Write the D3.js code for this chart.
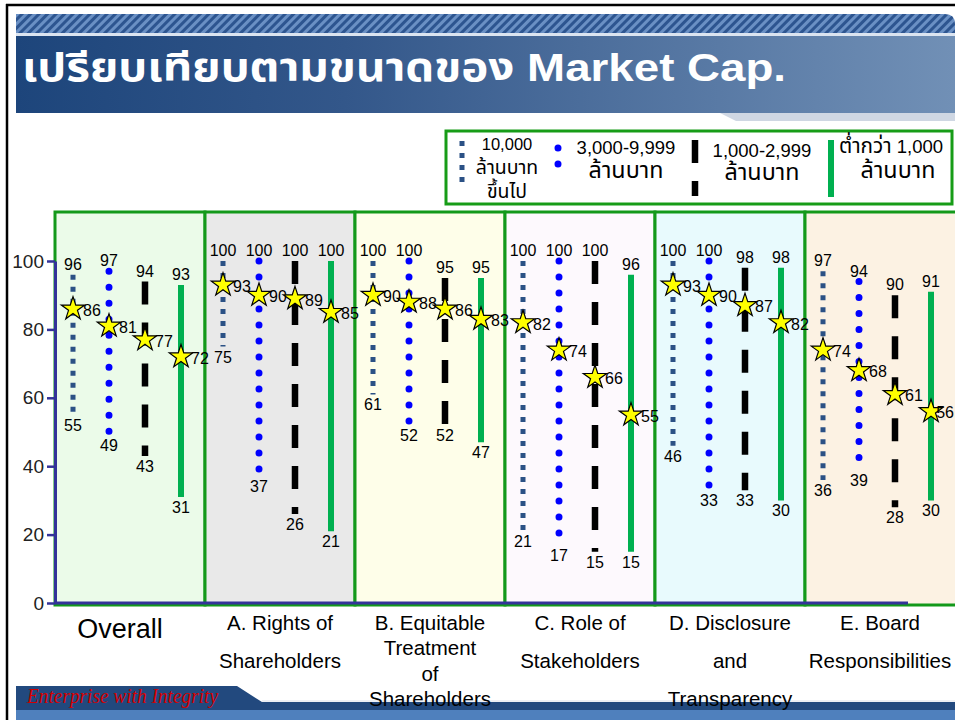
<!DOCTYPE html>
<html><head><meta charset="utf-8">
<script src="https://cdn.jsdelivr.net/npm/d3@7"></script>
<style>body{margin:0;background:#fff;} svg{display:block}</style>
</head><body>
<svg id="c" width="955" height="720"></svg>
<script>
// ---------------- data ----------------
const title = "เปรียบเทียบตามขนาดของ Market Cap.";
const groups = ["Overall", "A", "B", "C", "D", "E"];
const groupLabels = [
  ["Overall"],
  ["A. Rights of", "Shareholders"],
  ["B. Equitable", "Treatment", "of", "Shareholders"],
  ["C. Role of", "Stakeholders"],
  ["D. Disclosure", "and", "Transparency"],
  ["E. Board", "Responsibilities"]
];
const seriesKeys = ["big", "mid", "small", "micro"];
const legendLabels = [
  ["10,000", "ล้านบาท", "ขึ้นไป"],
  ["3,000-9,999", "ล้านบาท"],
  ["1,000-2,999", "ล้านบาท"],
  ["ต่ำกว่า 1,000", "ล้านบาท"]
];
// 10,000+ million baht
const maxBig = [96, 100, 100, 100, 100, 97];
const minBig = [55, 75, 61, 21, 46, 36];
const avgBig = [86, 93, 90, 82, 93, 74];
// 3,000-9,999
const maxMid = [97, 100, 100, 100, 100, 94];
const minMid = [49, 37, 52, 17, 33, 39];
const avgMid = [81, 90, 88, 74, 90, 68];
// 1,000-2,999
const maxSmall = [94, 100, 95, 100, 98, 90];
const minSmall = [43, 26, 52, 15, 33, 28];
const avgSmall = [77, 89, 86, 66, 87, 61];
// < 1,000
const maxMicro = [93, 100, 95, 96, 98, 91];
const minMicro = [31, 21, 47, 15, 30, 30];
const avgMicro = [72, 85, 83, 55, 82, 56];
const yTicks = [0, 20, 40, 60, 80, 100];
const footerText = "Enterprise with Integrity";

// ---------------- styles ----------------
const FONT = "'Liberation Sans', Arial, 'Noto Sans Thai', 'Noto Sans', sans-serif";
const seriesStyle = {
  big:   {stroke: "#2b5185", width: 5,   dash: "5 7",   cap: "butt"},
  mid:   {stroke: "#0000ff", width: 7,   dash: "0 16",  cap: "round"},
  small: {stroke: "#000000", width: 6.5, dash: "23 18", cap: "butt"},
  micro: {stroke: "#00b050", width: 6,   dash: null,    cap: "butt"}
};
const panelFill = ["#ebfbe9", "#e9e9e9", "#fefee9", "#fdf9fd", "#e8fafd", "#fcf2e3"];

const seriesData = {
  big:   {max: maxBig,   min: minBig,   avg: avgBig},
  mid:   {max: maxMid,   min: minMid,   avg: avgMid},
  small: {max: maxSmall, min: minSmall, avg: avgSmall},
  micro: {max: maxMicro, min: minMicro, avg: avgMicro}
};

const W = 955;
const svg = d3.select("#c");
const defs = svg.append("defs");

// gradient for banner
const g1 = defs.append("linearGradient").attr("id", "bannerGrad").attr("x1", 0).attr("x2", 1).attr("y1", 0).attr("y2", 0);
g1.append("stop").attr("offset", "0%").attr("stop-color", "#1d457b");
g1.append("stop").attr("offset", "35%").attr("stop-color", "#33578a");
g1.append("stop").attr("offset", "100%").attr("stop-color", "#7190b6");
// stripes pattern
const pat = defs.append("pattern").attr("id", "stripes").attr("patternUnits", "userSpaceOnUse")
  .attr("width", 6).attr("height", 6).attr("patternTransform", "rotate(45)");
pat.append("rect").attr("width", 6).attr("height", 6).attr("fill", "#6a90c4");
pat.append("rect").attr("width", 3).attr("height", 6).attr("fill", "#2d5590");

// ---------------- header ----------------
svg.append("path").attr("d", "M16,14 H945 Q955,14 955,24 V33 H16 Z").attr("fill", "url(#stripes)");
svg.append("rect").attr("x", 16).attr("y", 33).attr("width", 939).attr("height", 3).attr("fill", "#dbe4f0");
svg.append("rect").attr("x", 16).attr("y", 36).attr("width", 939).attr("height", 77).attr("fill", "url(#bannerGrad)");
svg.append("polygon").attr("points", "720,113 955,113 955,121 736,121").attr("fill", "#cfd7e3");
svg.append("text").attr("x", 22).attr("y", 81)
  .attr("fill", "#ffffff").attr("font-size", 39).attr("font-weight", "bold")
  .attr("font-family", "'Liberation Sans Narrow', 'Liberation Sans', 'Noto Sans Thai', sans-serif")
  .attr("textLength", 764).attr("lengthAdjust", "spacingAndGlyphs")
  .text(title);

// ---------------- scales ----------------
const x = d3.scaleBand().domain(groups).range([55, 955]).paddingInner(0).paddingOuter(0);
const xs = d3.scalePoint().domain(seriesKeys).range([18, 126]);
const y = d3.scaleLinear().domain([0, 100]).range([603, 261]);
const panelTop = 212, panelBottom = 605;

// ---------------- panels ----------------
svg.append("g").selectAll("rect").data(groups).join("rect")
  .attr("x", d => x(d)).attr("y", panelTop)
  .attr("width", (d, i) => x.bandwidth() + (i === groups.length - 1 ? 6 : 0))
  .attr("height", panelBottom - panelTop)
  .attr("fill", (d, i) => panelFill[i])
  .attr("stroke", "#13991a").attr("stroke-width", 3);

// ---------------- axes ----------------
const yAxis = svg.append("g").attr("transform", "translate(55,0)")
  .call(d3.axisLeft(y).tickValues(yTicks).tickSize(8).tickSizeOuter(0).tickPadding(3));
yAxis.select(".domain").attr("stroke", "#333399").attr("stroke-width", 3);
yAxis.selectAll(".tick line").attr("stroke", "#333399").attr("stroke-width", 2.5);
yAxis.selectAll(".tick text").attr("font-size", 19).attr("font-family", FONT).attr("fill", "#222");

svg.append("line").attr("x1", 55).attr("x2", 908).attr("y1", y(0)).attr("y2", y(0))
  .attr("stroke", "#333399").attr("stroke-width", 3);

// ---------------- series ----------------
const star = d3.symbol().type(d3.symbolStar).size(170);
const plot = svg.append("g");
groups.forEach((gName, gi) => {
  seriesKeys.forEach(k => {
    const st = seriesStyle[k], sd = seriesData[k];
    const cx = x(gName) + xs(k);
    const gg = plot.append("g");
    gg.append("line").attr("x1", cx).attr("x2", cx)
      .attr("y1", y(sd.max[gi])).attr("y2", y(sd.min[gi]))
      .attr("stroke", st.stroke).attr("stroke-width", st.width)
      .attr("stroke-linecap", st.cap)
      .attr("stroke-dasharray", st.dash);
    gg.append("text").attr("x", cx).attr("y", y(sd.max[gi]) - 5)
      .attr("text-anchor", "middle").attr("font-size", 16).attr("font-family", FONT)
      .text(sd.max[gi]);
    gg.append("text").attr("x", cx).attr("y", y(sd.min[gi]) + 16)
      .attr("text-anchor", "middle").attr("font-size", 16).attr("font-family", FONT)
      .text(sd.min[gi]);
    gg.append("path").attr("d", star)
      .attr("transform", `translate(${cx},${y(sd.avg[gi])})`)
      .attr("fill", "#ffff00").attr("stroke", "#000").attr("stroke-width", 1.2);
    const lab = gg.append("text").attr("x", cx + 10).attr("y", y(sd.avg[gi]) + 7)
      .attr("font-size", 16).attr("font-family", FONT)
      .text(sd.avg[gi]);
    const w = lab.node().getComputedTextLength();
    if (cx + 10 + w > W - 1) lab.attr("x", W - 1 - w);
  });
});

// ---------------- legend ----------------
svg.append("rect").attr("x", 446).attr("y", 131).attr("width", 506).attr("height", 73)
  .attr("fill", "#fff").attr("stroke", "#179c17").attr("stroke-width", 3);
const legendLayout = [
  {sx: 462, y1: 141, y2: 183, tx: 507, anchor: "middle", fs: 16.5, ys: [150, 174, 198]},
  {sx: 558, y1: 148, y2: 180, tx: 626, anchor: "middle", fs: 18.5, ys: [154, 178]},
  {sx: 695, y1: 140, y2: 196, tx: 762, anchor: "middle", fs: 18.5, ys: [157, 180]},
  {sx: 831, y1: 140, y2: 197, tx: 839, anchor: "start",  fs: 18.5, ys: [153, 178]}
];
const thaiRe = /([\u0E00-\u0E7F]+)/;
function addRuns(textSel, str, fs, thaiScale) {
  str.split(thaiRe).filter(s => s.length).forEach(part => {
    const isThai = thaiRe.test(part);
    textSel.append("tspan").attr("font-size", isThai ? fs * thaiScale : fs).text(part);
  });
}
seriesKeys.forEach((k, i) => {
  const st = seriesStyle[k], L = legendLayout[i];
  svg.append("line").attr("x1", L.sx).attr("x2", L.sx).attr("y1", L.y1).attr("y2", L.y2)
    .attr("stroke", st.stroke).attr("stroke-width", st.width)
    .attr("stroke-linecap", st.cap).attr("stroke-dasharray", st.dash);
  legendLabels[i].forEach((t, j) => {
    let tx = L.tx, anchor = L.anchor;
    if (i === 3 && j === 1) { tx = 898; anchor = "middle"; }
    const te = svg.append("text").attr("x", tx).attr("y", L.ys[j]).attr("text-anchor", anchor)
      .attr("font-size", L.fs).attr("font-family", FONT);
    addRuns(te, t, L.fs, i === 3 && j === 0 ? 1.12 : (i === 0 ? 1.18 : 1.26));
  });
});

// ---------------- footer ----------------
svg.append("polygon").attr("points", "16,686 237,686 262,702 955,702 955,710 16,710").attr("fill", "#22497e");
svg.append("line").attr("x1", 262).attr("x2", 955).attr("y1", 701).attr("y2", 701).attr("stroke", "#d8dee8").attr("stroke-width", 1);
svg.append("rect").attr("x", 16).attr("y", 710).attr("width", 939).attr("height", 10).attr("fill", "#4f80bd");
svg.append("text").attr("x", 27).attr("y", 703).attr("fill", "#d40000")
  .attr("font-size", 21).attr("font-style", "italic")
  .attr("font-family", "'URW Chancery L', 'Z003', 'Liberation Serif', 'DejaVu Serif', serif")
  .attr("textLength", 191).attr("lengthAdjust", "spacingAndGlyphs")
  .text(footerText);

// ---------------- category labels ----------------
groups.forEach((gName, gi) => {
  const lines = groupLabels[gi];
  const cx = x(gName) + x.bandwidth() / 2 - (gi === 0 ? 10 : 0);
  const n = lines.length;
  const fs = n === 1 ? 27 : 20.5;
  const gap = n === 1 ? 0 : Math.min(38, 76 / (n - 1));
  const y0 = n === 1 ? 638 : 630;
  lines.forEach((t, j) => {
    svg.append("text").attr("x", cx).attr("y", y0 + j * gap)
      .attr("text-anchor", "middle").attr("font-size", fs).attr("font-family", FONT)
      .text(t);
  });
});

// ---------------- slide frame ----------------
svg.append("line").attr("x1", 6).attr("x2", 955).attr("y1", 5).attr("y2", 5).attr("stroke", "#000").attr("stroke-width", 2.5);
svg.append("line").attr("x1", 7).attr("x2", 7).attr("y1", 4).attr("y2", 720).attr("stroke", "#000").attr("stroke-width", 2.5);
</script>
</body></html>
